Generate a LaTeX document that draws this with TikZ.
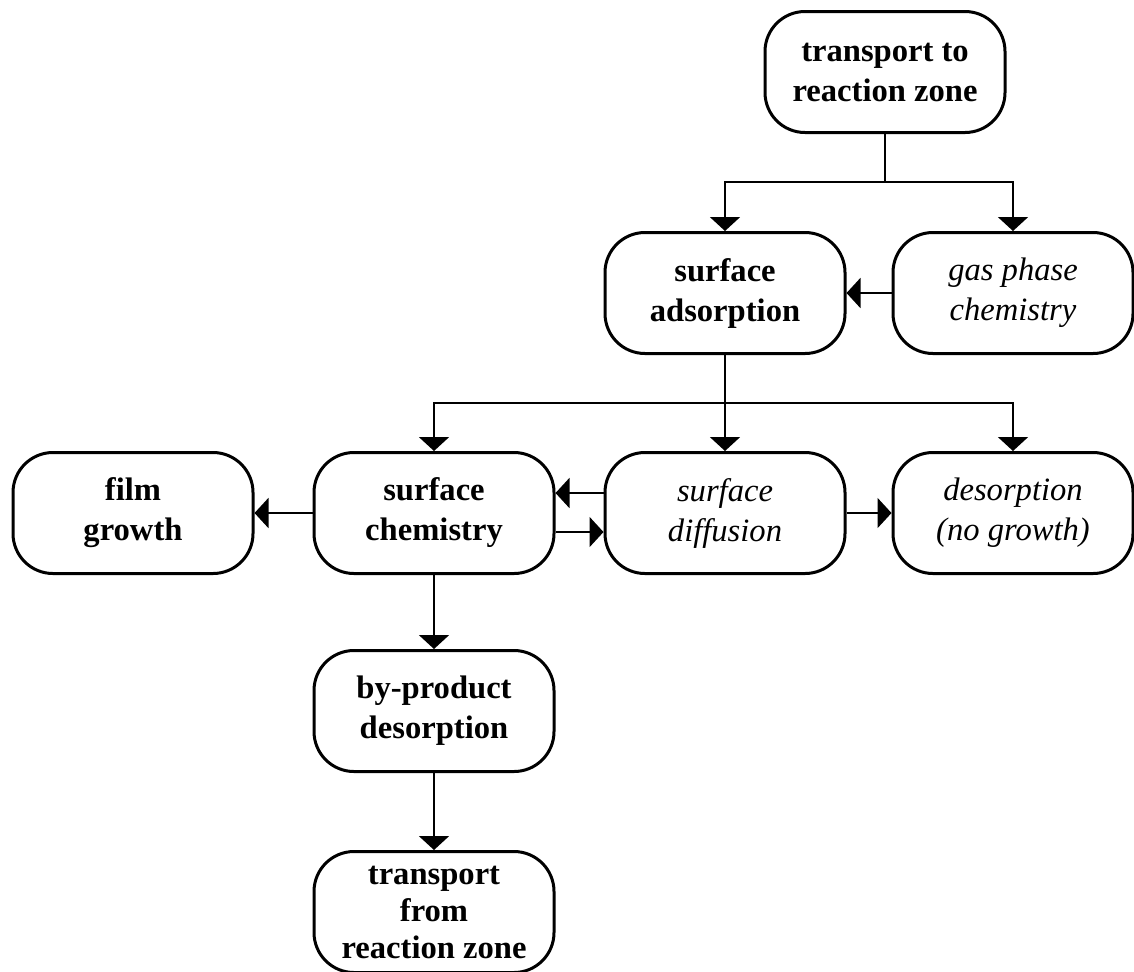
\documentclass[tikz,border=0pt]{standalone}
\usepackage{fontspec}
\setmainfont{Liberation Serif}
\usetikzlibrary{arrows.meta}
\tikzset{
  stage/.style={draw, line width=1.5pt, rounded corners=20pt,
    minimum width=120pt, minimum height=60.5pt, align=center,
    inner sep=2pt, font=\fontsize{16.3}{20}\selectfont},
  link/.style={line width=1pt},
  arr/.style={link, ->}
}
\begin{document}
\begin{tikzpicture}[x=0.5pt, y=-0.5pt, >={Triangle[length=7pt, width=15pt]}]
    \useasboundingbox (0,0) rectangle (1134,971);

    % 1. Stages
    \node[stage] (tto)    at (885,72)   {\bfseries transport to\\\bfseries reaction zone};
    \node[stage] (adsorb) at (725,293)  {\bfseries surface\\\bfseries adsorption};
    \node[stage] (gas)    at (1013,293) {\itshape gas phase\\\itshape chemistry};
    \node[stage] (film)   at (133,513)  {\bfseries film\\\bfseries growth};
    \node[stage] (schem)  at (434,513)  {\bfseries surface\\\bfseries chemistry};
    \node[stage] (diff)   at (725,513)  {\itshape surface\\\itshape diffusion};
    \node[stage] (desorb) at (1013,513) {\itshape desorption\\\itshape (no growth)};
    \node[stage] (byprod) at (434,711)  {\bfseries by-product\\\bfseries desorption};
    \node[stage, font=\fontsize{16.3}{18.5}\selectfont] (tfrom) at (434,912)
        {\bfseries transport\\\bfseries from\\\bfseries reaction zone};

    % 2. Branch points
    \coordinate (split1) at (885,182);
    \coordinate (split2) at (725,403);

    % 3. Connectors
    \draw[link] (tto) -- (split1);
    \draw[arr] (split1) -| (adsorb);
    \draw[arr] (split1) -| (gas);
    \draw[arr] (gas) -- (adsorb);

    \draw[link] (adsorb) -- (split2);
    \draw[arr] (split2) -| (schem);
    \draw[arr] (split2) -- (diff);
    \draw[arr] (split2) -| (desorb);

    \draw[arr] (schem) -- (film);
    \draw[arr] ([yshift=10pt]diff.west) -- ([yshift=10pt]schem.east);
    \draw[arr] ([yshift=-9.5pt]schem.east) -- ([yshift=-9.5pt]diff.west);
    \draw[arr] (diff) -- (desorb);

    \draw[arr] (schem) -- (byprod);
    \draw[arr] (byprod) -- (tfrom);
\end{tikzpicture}
\end{document}
